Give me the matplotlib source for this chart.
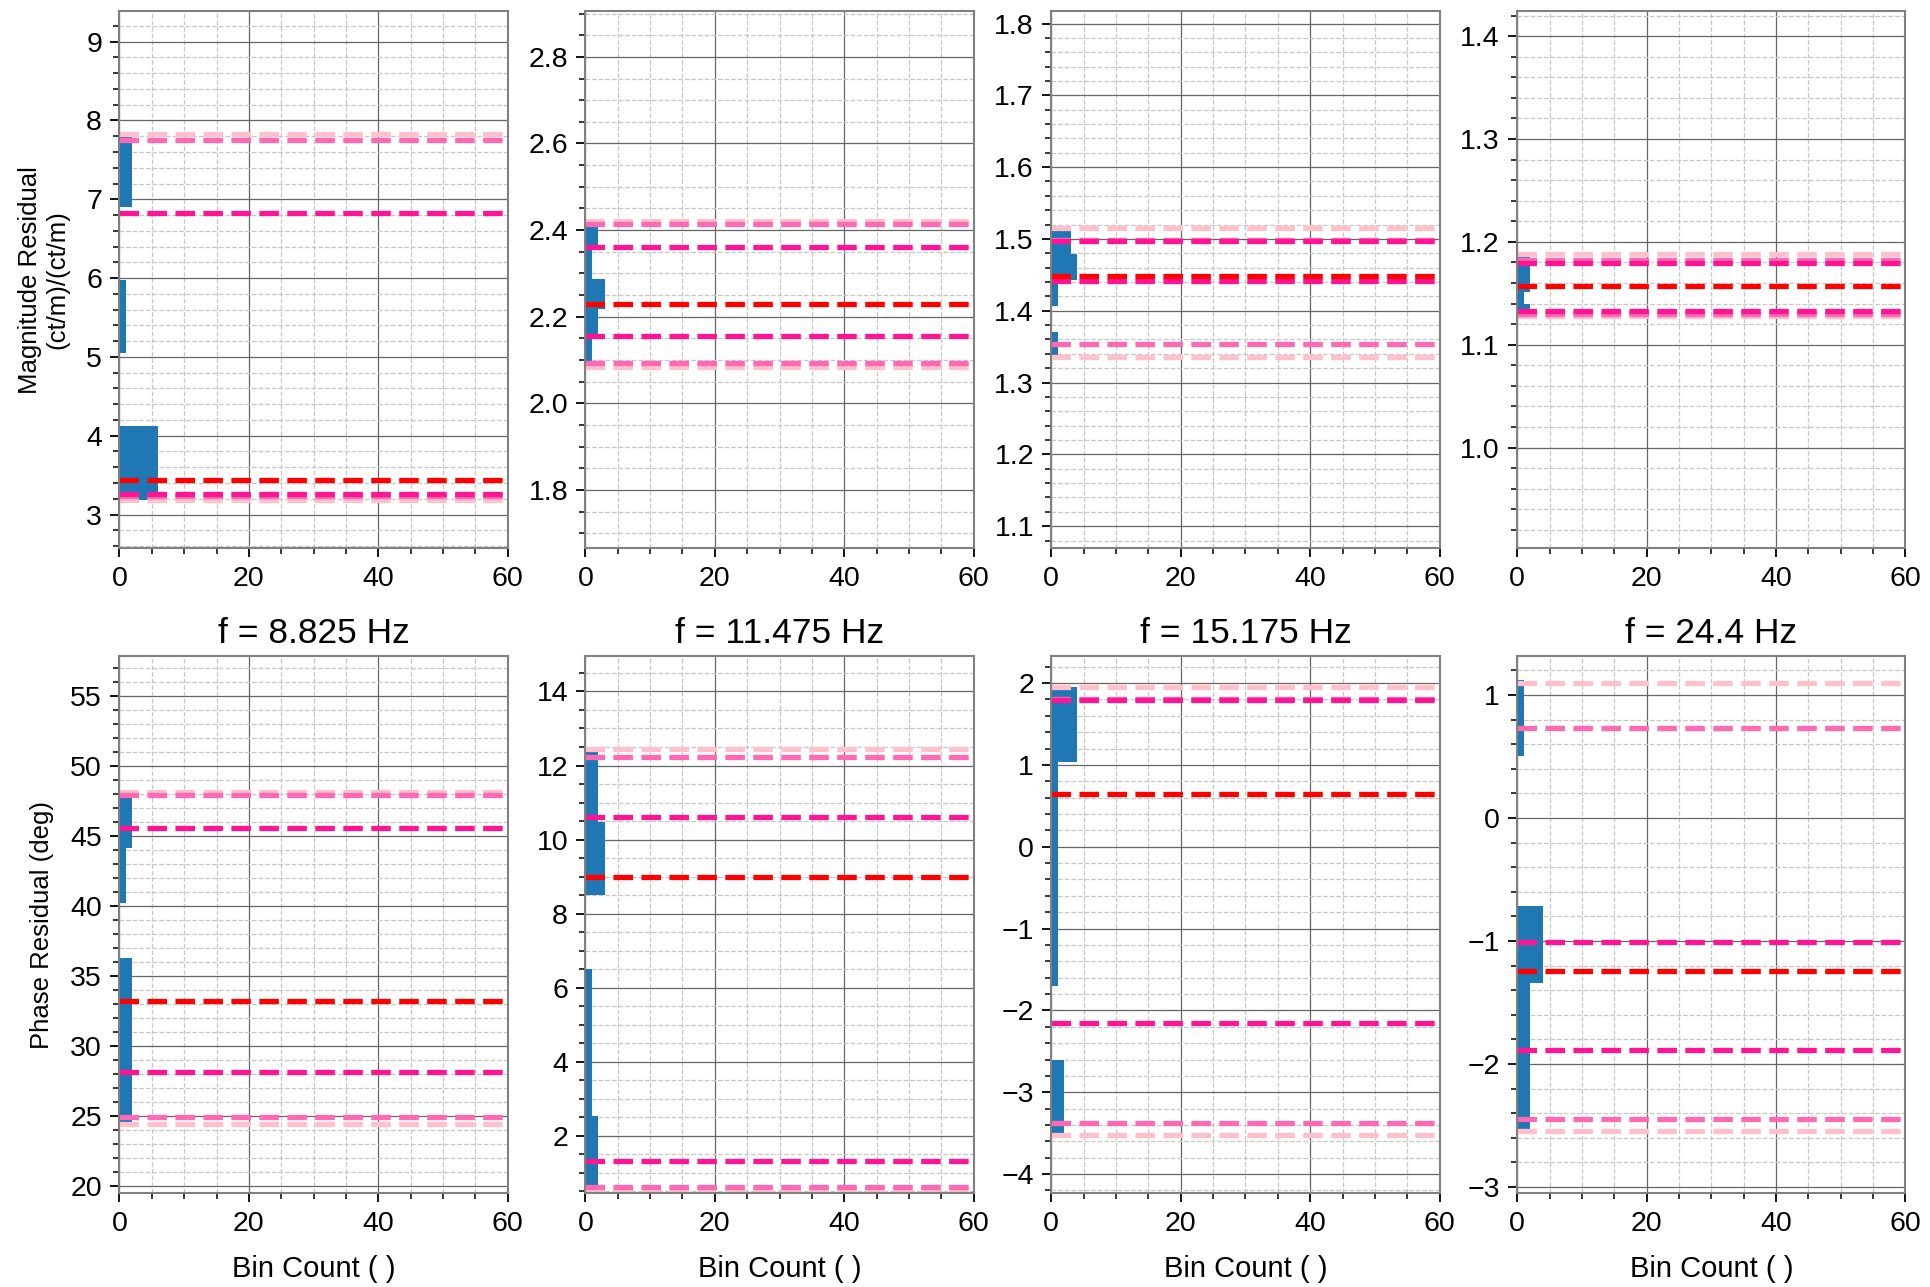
import numpy as np
import matplotlib
matplotlib.use('Agg')
import matplotlib.pyplot as plt
from matplotlib.ticker import MultipleLocator

plt.rcParams['font.family'] = ['Liberation Sans', 'DejaVu Sans']

freqs = [8.825, 11.475, 15.175, 24.4]

# histogram bin edges (bottom to top) and bin counts
mag_edges = [
    [3.19, 4.12, 5.05, 5.97, 6.90, 7.83],
    [2.083, 2.151, 2.218, 2.286, 2.354, 2.421],
    [1.335, 1.371, 1.407, 1.443, 1.479, 1.515],
    [1.1277, 1.1397, 1.1517, 1.1637, 1.1757, 1.1877],
]
mag_counts = [
    [6, 0, 1, 0, 2],
    [1, 2, 3, 1, 2],
    [1, 0, 1, 4, 3],
    [2, 1, 2, 2, 2],
]
pha_edges = [
    [24.41, 28.36, 32.32, 36.27, 40.22, 44.17, 48.13],
    [0.56, 2.54, 4.52, 6.51, 8.49, 10.47, 12.45],
    [-3.52, -2.61, -1.70, -0.79, 0.13, 1.04, 1.95],
    [-2.56, -1.95, -1.34, -0.72, -0.11, 0.50, 1.12],
]
pha_counts = [
    [2, 2, 2, 0, 1, 2],
    [2, 1, 1, 0, 3, 2],
    [2, 0, 1, 1, 1, 4],
    [2, 2, 4, 0, 0, 1],
]

# dashed reference levels (lower, upper) and medians
mag_pink = [(3.19, 7.83), (2.083, 2.421), (1.335, 1.515), (1.128, 1.188)]
mag_hotpink = [(3.235, 7.755), (2.092, 2.414), (1.353, 1.4985), (1.130, 1.182)]
mag_deeppink = [(3.26, 6.82), (2.156, 2.362), (1.441, 1.4965), (1.133, 1.179)]
mag_median = [3.44, 2.229, 1.449, 1.1567]

pha_pink = [(24.41, 48.13), (0.56, 12.45), (-3.52, 1.947), (-2.544, 1.10)]
pha_hotpink = [(24.91, 47.94), (0.62, 12.22), (-3.37, 1.81), (-2.444, 0.733)]
pha_deeppink = [(28.16, 45.56), (1.314, 10.61), (-2.15, 1.797), (-1.885, -1.0125)]
pha_median = [33.22, 8.98, 0.647, -1.244]

mag_ylim = [(2.57, 9.39), (1.665, 2.906), (1.069, 1.8175), (0.902, 1.4245)]
pha_ylim = [(19.47, 57.87), (0.44, 14.96), (-4.236, 2.331), (-3.053, 1.317)]
mag_step = [1, 0.2, 0.1, 0.1]
pha_step = [5, 2, 1, 1]

fig, axes = plt.subplots(2, 4, figsize=(19.3, 12.87), dpi=100)
fig.subplots_adjust(left=0.0619, right=0.9873, top=0.9915, bottom=0.0727,
                    wspace=0.2, hspace=0.2)


def draw_panel(ax, edges, counts, pink, hotpink, deeppink, median, ylim, step):
    ax.set_axisbelow(True)
    ax.hist(edges[:-1], bins=edges, weights=counts, orientation='horizontal',
            color='#1f77b4')
    for lev in pink:
        ax.axhline(lev, color='pink', ls='--', lw=3.8)
    for lev in hotpink:
        ax.axhline(lev, color='hotpink', ls='--', lw=3.8)
    for lev in deeppink:
        ax.axhline(lev, color='deeppink', ls='--', lw=3.8)
    ax.axhline(median, color='red', ls='--', lw=3.8)
    ax.set_xlim(0, 60)
    ax.set_ylim(*ylim)
    ax.set_xticks([0, 20, 40, 60])
    ax.yaxis.set_major_locator(MultipleLocator(step))
    ax.minorticks_on()
    ax.grid(which='major', color='0.4', lw=0.9)
    ax.grid(which='minor', color='0.78', ls='--', lw=0.9)
    ax.tick_params(which='major', length=6.5, width=1.3, labelsize=20.5, pad=6)
    ax.tick_params(which='minor', length=4, width=1.1)
    for sp in ax.spines.values():
        sp.set_color('0.5')
        sp.set_linewidth(1.5)


for i, f in enumerate(freqs):
    draw_panel(axes[0, i], mag_edges[i], mag_counts[i], mag_pink[i],
               mag_hotpink[i], mag_deeppink[i], mag_median[i], mag_ylim[i],
               mag_step[i])
    draw_panel(axes[1, i], pha_edges[i], pha_counts[i], pha_pink[i],
               pha_hotpink[i], pha_deeppink[i], pha_median[i], pha_ylim[i],
               pha_step[i])
    axes[1, i].set_title(f'f = {f} Hz', fontsize=25.5, pad=9)
    axes[1, i].set_xlabel('Bin Count ( )', fontsize=21, labelpad=13)

axes[0, 0].set_ylabel('Magnitude Residual\n(ct/m)/(ct/m)', fontsize=18.5,
                      labelpad=12)
axes[1, 0].set_ylabel('Phase Residual (deg)', fontsize=18.5, labelpad=12)

fig.savefig('out.png', dpi=100)
